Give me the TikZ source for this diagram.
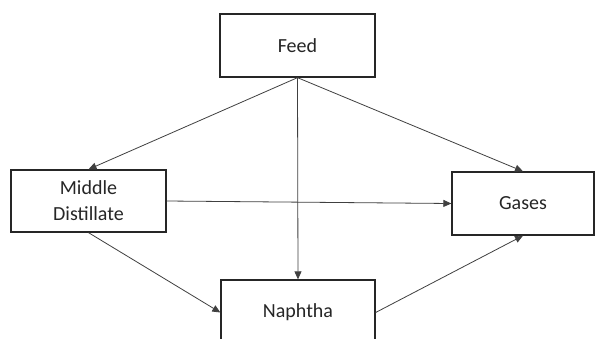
\documentclass[tikz,border=0pt]{standalone}
\usepackage{fontspec}
\setmainfont{Carlito}
\usetikzlibrary{arrows.meta}
\begin{document}
\begin{tikzpicture}[x=1pt,y=-1pt,
  box/.style={draw=black!85, line width=1.3pt, fill=white, inner sep=0pt, align=center, font=\fontsize{20}{26}\selectfont, text=black!85},
  link/.style={draw=black!75, line width=0.8pt, -{Triangle[length=8pt,width=7pt]}}]
\useasboundingbox (0,0) rectangle (598,338);
\clip (0,0) rectangle (598,338);
\fill[white] (0,0) rectangle (598,338);
\node[box, minimum width=155pt, minimum height=63pt] (feed) at (297.5,45.5) {Feed};
\node[box, minimum width=155pt, minimum height=62pt] (md) at (88.5,201) {Middle\\Distillate};
\node[box, minimum width=142pt, minimum height=63pt] (gases) at (523,203.5) {Gases};
\node[box, minimum width=154pt, minimum height=65pt] (naphtha) at (298,312.5) {Naphtha};
\draw[link] (feed.south) -- (md.north);
\draw[link] (feed.south) -- (gases.north);
\draw[link] (feed.south) -- (naphtha.north);
\draw[link] (md.east) -- (gases.west);
\draw[link] (md.south) -- (naphtha.west);
\draw[link] (naphtha.east) -- (gases.south);
\end{tikzpicture}
\end{document}
